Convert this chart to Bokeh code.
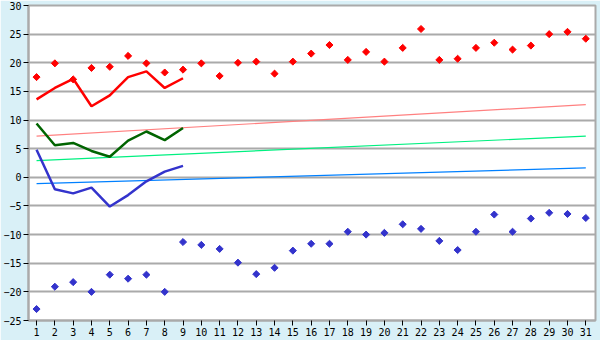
import math
from bokeh.plotting import figure
from bokeh.models import Range1d, FixedTicker
from bokeh.embed import file_html
from bokeh.resources import INLINE

days = list(range(1, 32))
max_temp = [17.5, 19.9, 17.1, 19.1, 19.3, 21.2, 19.9, 18.3, 18.8, 19.9,
            17.7, 20.0, 20.2, 18.1, 20.2, 21.6, 23.1, 20.5, 21.9, 20.2,
            22.6, 25.9, 20.5, 20.7, 22.6, 23.5, 22.3, 23.0, 25.0, 25.4, 24.2]
min_temp = [-23.0, -19.1, -18.3, -20.0, -17.0, -17.7, -17.0, -20.0, -11.3, -11.8,
            -12.5, -14.9, -16.9, -15.8, -12.8, -11.6, -11.6, -9.5, -10.0, -9.7,
            -8.2, -9.0, -11.1, -12.7, -9.5, -6.5, -9.5, -7.2, -6.2, -6.4, -7.1]

obs_days = [1, 2, 3, 4, 5, 6, 7, 8, 9]
obs_max = [13.6, 15.6, 17.2, 12.4, 14.3, 17.5, 18.5, 15.6, 17.3]
obs_mean = [9.4, 5.6, 6.0, 4.6, 3.6, 6.4, 8.0, 6.5, 8.6]
obs_min = [4.8, -2.1, -2.8, -1.8, -5.1, -3.1, -0.7, 1.0, 2.0]

trend_days = [1, 31]
normal_max = [7.2, 12.7]
normal_mean = [2.9, 7.2]
normal_min = [-1.1, 1.65]

y_ticks = list(range(-25, 31, 5))

p = figure(width=600, height=340, output_backend="svg", toolbar_location=None,
           x_range=Range1d(0.56, 31.53), y_range=Range1d(-25, 30),
           min_border_left=27, min_border_right=5, min_border_top=5, min_border_bottom=20)
p.background_fill_color = "white"
p.border_fill_color = "#D9F0F7"
p.outline_line_color = "#AAAAAA"
p.outline_line_width = 2

p.xgrid.visible = False
p.ygrid.grid_line_color = "#AAAAAA"
p.ygrid.grid_line_width = 2
p.ygrid.ticker = FixedTicker(ticks=y_ticks)

for ax in (p.xaxis[0], p.yaxis[0]):
    ax.axis_line_color = "#AAAAAA"
    ax.axis_line_width = 2
    ax.major_tick_line_color = "black"
    ax.minor_tick_line_color = None
    ax.major_label_text_font = "DejaVu Sans Mono"
    ax.major_label_text_font_size = "10px"
    ax.major_label_text_color = "black"
    ax.major_label_standoff = 2

p.xaxis.ticker = FixedTicker(ticks=days)
p.xaxis.major_tick_out = 5
p.xaxis.major_tick_in = 0
p.yaxis.ticker = FixedTicker(ticks=y_ticks)
p.yaxis.major_tick_out = 5
p.yaxis.major_tick_in = 0

p.line(trend_days, normal_max, line_color="#FF8080", line_width=1.2)
p.line(trend_days, normal_mean, line_color="#00F080", line_width=1.2)
p.line(trend_days, normal_min, line_color="#0080FF", line_width=1.2)

p.line(obs_days, obs_max, line_color="#FF0000", line_width=2.5)
p.line(obs_days, obs_mean, line_color="#006400", line_width=2.5)
p.line(obs_days, obs_min, line_color="#3333CC", line_width=2.5)

p.scatter(days, max_temp, marker="square", size=5, angle=math.pi / 4,
          fill_color="#FF0000", line_color="#FF0000", line_width=1)
p.scatter(days, min_temp, marker="square", size=5, angle=math.pi / 4,
          fill_color="#3333CC", line_color="#3333CC", line_width=1)

open("out.html", "w").write(file_html(p, INLINE))
